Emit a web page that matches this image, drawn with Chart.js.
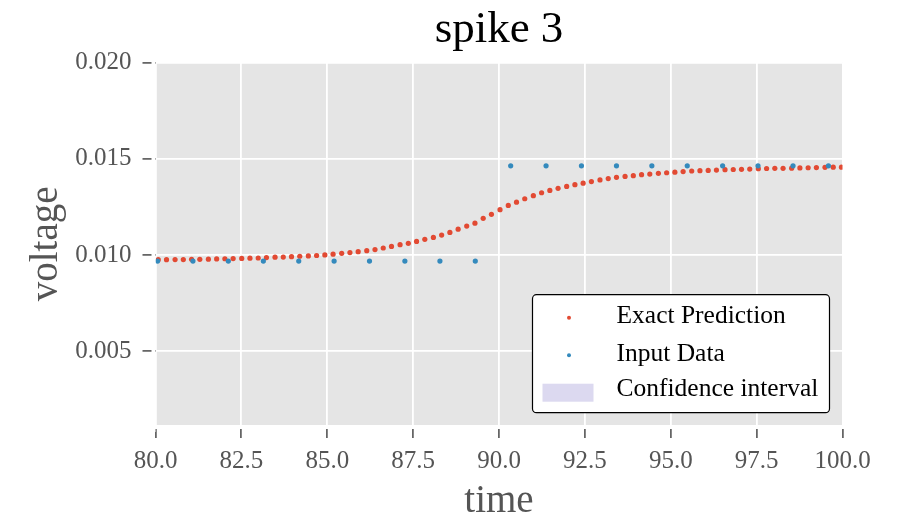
<!DOCTYPE html>
<html>
<head>
<meta charset="utf-8">
<script src="https://cdn.jsdelivr.net/npm/chart.js@4"></script>
<style>
  html, body { margin: 0; padding: 0; background: #fff; }
  #wrap { width: 897px; height: 516px; }
</style>
</head>
<body>
<div id="wrap"><canvas id="chartSpike"></canvas></div>
<script>
// exact prediction (dense curve)
const predTime = [
  80.08, 80.32, 80.57, 80.81, 81.05, 81.29, 81.54, 81.78, 82.02, 82.26,
  82.51, 82.75, 82.99, 83.23, 83.48, 83.72, 83.96, 84.20, 84.45, 84.69,
  84.93, 85.17, 85.42, 85.66, 85.90, 86.15, 86.39, 86.63, 86.87, 87.12,
  87.36, 87.60, 87.84, 88.09, 88.33, 88.57, 88.81, 89.06, 89.30, 89.54,
  89.78, 90.03, 90.27, 90.51, 90.75, 91.00, 91.24, 91.48, 91.72, 91.97,
  92.21, 92.45, 92.69, 92.94, 93.18, 93.42, 93.67, 93.91, 94.15, 94.39,
  94.64, 94.88, 95.12, 95.36, 95.61, 95.85, 96.09, 96.33, 96.58, 96.82,
  97.06, 97.30, 97.55, 97.79, 98.03, 98.27, 98.52, 98.76, 99.00, 99.24,
  99.49, 99.73, 99.97
];
const predVoltage = [
  0.00976, 0.00976, 0.00977, 0.00977, 0.00978, 0.00978, 0.00979, 0.00980, 0.00981, 0.00982,
  0.00983, 0.00984, 0.00985, 0.00987, 0.00989, 0.00990, 0.00992, 0.00994, 0.00996, 0.00998,
  0.01001, 0.01005, 0.01009, 0.01013, 0.01018, 0.01023, 0.01029, 0.01037, 0.01045, 0.01054,
  0.01061, 0.01071, 0.01082, 0.01092, 0.01104, 0.01118, 0.01135, 0.01151, 0.01166, 0.01191,
  0.01212, 0.01236, 0.01258, 0.01275, 0.01293, 0.01309, 0.01324, 0.01336, 0.01347, 0.01357,
  0.01366, 0.01374, 0.01382, 0.01391, 0.01398, 0.01404, 0.01409, 0.01413, 0.01418, 0.01421,
  0.01425, 0.01428, 0.01431, 0.01434, 0.01437, 0.01439, 0.01440, 0.01442, 0.01444, 0.01445,
  0.01446, 0.01447, 0.01449, 0.01450, 0.01451, 0.01451, 0.01452, 0.01453, 0.01454, 0.01455,
  0.01456, 0.01457, 0.01457
];

// input data
const inputTime = [
  80.06, 81.09, 82.12, 83.14, 84.17, 85.20, 86.23, 87.26, 88.28, 89.31,
  90.34, 91.37, 92.40, 93.42, 94.45, 95.48, 96.51, 97.54, 98.56, 99.59
];
const inputVoltage = [
  0.00969, 0.00969, 0.00969, 0.00969, 0.00969, 0.00969, 0.00969, 0.00969, 0.00969, 0.00969,
  0.01464, 0.01464, 0.01464, 0.01464, 0.01464, 0.01464, 0.01464, 0.01464, 0.01464, 0.01464
];

const xTicks = [80, 82.5, 85, 87.5, 90, 92.5, 95, 97.5, 100];
const yTicks = [0.005, 0.010, 0.015, 0.020];

const seriesNames = ['Exact Prediction', 'Input Data', 'Confidence interval'];

const serif = "'Liberation Serif', 'Times New Roman', serif";

const toPts = (xs, ys) => xs.map((x, i) => ({ x: x, y: ys[i] }));

// grey panel behind the plot, gap between ticks and panel, legend box
const panelPlugin = {
  id: 'panel',
  beforeDraw(chart) {
    const { ctx, chartArea: a } = chart;
    ctx.save();
    ctx.fillStyle = '#E5E5E5';
    ctx.fillRect(a.left, a.top, a.right - a.left, a.bottom - a.top);
    ctx.restore();
  },
  afterDatasetsDraw(chart) {
    const { ctx, chartArea: a } = chart;
    ctx.save();
    // cut the tick marks so they stand off the panel
    ctx.fillStyle = '#fff';
    ctx.fillRect(a.left - 4, a.top - 3, 4, a.bottom - a.top + 10);
    ctx.fillRect(a.left - 4, a.bottom, a.right - a.left + 8, 4);

    // legend
    const bx = a.left + 377, by = a.top + 232, bw = 297, bh = 118;
    ctx.beginPath();
    ctx.roundRect(bx, by, bw, bh, 4);
    ctx.fillStyle = '#fff';
    ctx.fill();
    ctx.lineWidth = 1.2;
    ctx.strokeStyle = '#000';
    ctx.stroke();

    const ds = chart.data.datasets;
    ctx.font = '25.5px ' + serif;
    ctx.textBaseline = 'middle';
    ctx.fillStyle = '#000';
    const rows = [by + 22, by + 59.5, by + 95];
    ds.forEach((d, i) => {
      const y = rows[i];
      if (i < 2) {
        ctx.beginPath();
        ctx.arc(bx + 36.5, y + 1, 2, 0, Math.PI * 2);
        ctx.fillStyle = d.backgroundColor;
        ctx.fill();
      } else {
        ctx.fillStyle = d.backgroundColor;
        ctx.fillRect(bx + 10, y - 6, 51, 18);
      }
      ctx.fillStyle = '#000';
      ctx.fillText(d.label, bx + 84, y);
    });
    ctx.restore();
  }
};

const ctxSpike = document.getElementById('chartSpike').getContext('2d');
const chartSpike = new Chart(ctxSpike, {
  type: 'scatter',
  data: {
    datasets: [{
      label: seriesNames[0],
      data: toPts(predTime, predVoltage),
      backgroundColor: '#E24A33',
      borderWidth: 0,
      pointRadius: 2.6,
      order: 2
    }, {
      label: seriesNames[1],
      data: toPts(inputTime, inputVoltage),
      backgroundColor: '#348ABD',
      borderWidth: 0,
      pointRadius: 2.6,
      order: 1
    }, {
      label: seriesNames[2],
      data: [],
      backgroundColor: '#DCD9F0',
      order: 3
    }]
  },
  options: {
    responsive: true,
    maintainAspectRatio: false,
    animation: false,
    events: [],
    layout: { padding: { left: 0, right: 54.5, top: 0, bottom: 0 } },
    plugins: {
      legend: { display: false },
      tooltip: { enabled: false },
      title: {
        display: true,
        fullSize: false,
        text: 'spike 3',
        color: '#000',
        font: { family: serif, size: 45, weight: 'normal' },
        padding: { top: 3, bottom: 5.7 }
      }
    },
    scales: {
      x: {
        type: 'linear',
        min: 80,
        max: 100,
        afterFit(s) { s.height = 91; },
        afterBuildTicks(s) { s.ticks = xTicks.map(v => ({ value: v })); },
        ticks: {
          color: '#555',
          font: { family: serif, size: 25 },
          padding: 8,
          maxRotation: 0,
          callback: v => v.toFixed(1)
        },
        grid: { color: '#fff', lineWidth: 1.8, tickColor: '#555', tickWidth: 1.6, tickLength: 13 },
        border: { display: false },
        title: {
          display: true,
          text: 'time',
          color: '#555',
          font: { family: serif, size: 39, lineHeight: 1 },
          padding: { top: 0, bottom: -5.2 }
        }
      },
      y: {
        type: 'linear',
        min: 0.00117,
        max: 0.020,
        afterFit(s) { s.width = 155.5; },
        afterBuildTicks(s) { s.ticks = yTicks.map(v => ({ value: v })); },
        ticks: {
          color: '#555',
          font: { family: serif, size: 25 },
          padding: 11,
          callback: v => v.toFixed(3)
        },
        grid: { color: '#fff', lineWidth: 1.8, tickColor: '#555', tickWidth: 1.6, tickLength: 13 },
        border: { display: false },
        title: {
          display: true,
          text: 'voltage',
          color: '#555',
          font: { family: serif, size: 39, lineHeight: 1 },
          padding: { top: 27, bottom: 0 }
        }
      }
    }
  },
  plugins: [panelPlugin]
});
</script>
</body>
</html>
